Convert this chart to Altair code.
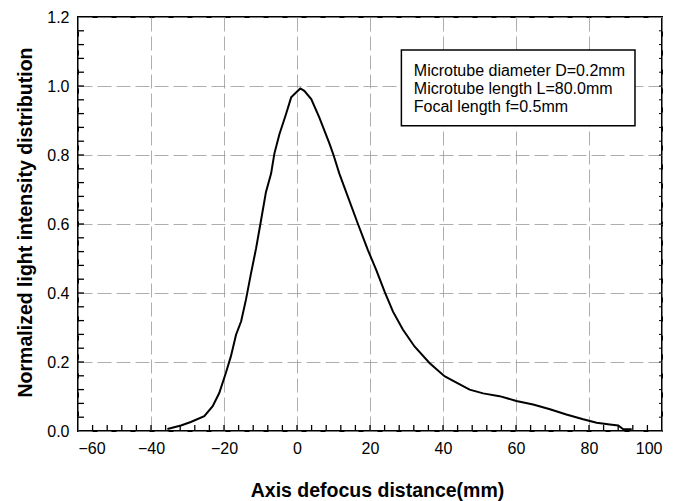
import altair as alt
import pandas as pd

# Curve
x_mm = [-35.5, -31.8, -29.1, -25.4, -23.1, -21.3, -19.5, -18.1, -16.7, -15.3, -14.0,
        -12.6, -11.2, -9.85, -8.5, -7.1, -6.2, -4.8, -3.0, -1.6, -0.25, 0.9, 2.0,
        3.9, 6.1, 8.9, 10.0, 11.6, 16.7, 19.4, 21.7, 24.0, 26.3, 29.0, 32.2, 36.3,
        40.4, 43.7, 47.3, 51.0, 55.5, 60.1, 64.7, 69.3, 73.8, 78.4, 82.1, 85.7,
        88.0, 89.4, 91.7]
intensity = [0.006, 0.016, 0.026, 0.043, 0.072, 0.11, 0.168, 0.217, 0.279, 0.318, 0.38,
             0.457, 0.53, 0.611, 0.693, 0.746, 0.804, 0.861, 0.919, 0.967, 0.981, 0.993, 0.986,
             0.962, 0.909, 0.833, 0.8, 0.746, 0.6, 0.525, 0.467, 0.404, 0.346, 0.294, 0.245, 0.197,
             0.159, 0.14, 0.12, 0.109, 0.101, 0.087, 0.077, 0.063, 0.048, 0.034, 0.024, 0.019,
             0.016, 0.005, 0.005]

x_major = [-60, -40, -20, 0, 20, 40, 60, 80, 100]
y_major = [0.0, 0.2, 0.4, 0.6, 0.8, 1.0, 1.2]
x_minor = list(range(-56, 100, 4))
y_minor = [round(0.04 * i, 2) for i in range(1, 30)]

legend_lines = ["Microtube diameter D=0.2mm", "Microtube length L=80.0mm", "Focal length f=0.5mm"]
legend_text_x = 32.0
legend_text_y = [1.044, 0.992, 0.940]
legend_box = {"x": 28.6, "x2": 92.6, "y": 1.104, "y2": 0.885}

W, H = 584, 414
FONT = "Liberation Sans"

xs = alt.Scale(domain=[-60, 100], nice=False, zero=False)
ys = alt.Scale(domain=[0, 1.2], nice=False)

x_axis = alt.Axis(values=x_major, title="Axis defocus distance(mm)", grid=True,
                  ticks=False, domain=False, labelPadding=9,
                  titleX=299, titleY=59, titleBaseline="middle")
y_axis = alt.Axis(values=y_major, format=".1f",
                  title="Normalized light intensity distribution", grid=True,
                  ticks=False, domain=False, labelPadding=9,
                  titleX=-53, titleY=205, titleAngle=-90,
                  titleBaseline="middle", titleAlign="center")


def X(f):
    return alt.X(f, scale=xs, axis=x_axis, title="Axis defocus distance(mm)")


def Y(f):
    return alt.Y(f, scale=ys, axis=y_axis, title="Normalized light intensity distribution")


curve_df = pd.DataFrame({"x": x_mm, "y": intensity})

line = alt.Chart(curve_df).mark_line(color="black", strokeWidth=2).encode(
    x=X("x:Q"), y=Y("y:Q"), order=alt.Order("x:Q"))

xt_df = pd.DataFrame({"x": x_minor})
yt_df = pd.DataFrame({"y": y_minor})

bottom_ticks = alt.Chart(xt_df).mark_rule(color="black", strokeWidth=1.3).encode(
    x=X("x:Q"), y=alt.value(H), y2=alt.value(H - 6))
left_ticks = alt.Chart(yt_df).mark_rule(color="black", strokeWidth=1.3).encode(
    y=Y("y:Q"), x=alt.value(0), x2=alt.value(6))
right_ticks = alt.Chart(yt_df).mark_rule(color="black", strokeWidth=1).encode(
    y=Y("y:Q"), x=alt.value(W), x2=alt.value(W - 3))

box_df = pd.DataFrame([legend_box])
box = alt.Chart(box_df).mark_rect(fill="white", stroke="black", strokeWidth=1.5).encode(
    x=X("x:Q"), x2="x2:Q", y=Y("y:Q"), y2="y2:Q")

txt_df = pd.DataFrame({"t": legend_lines, "x": [legend_text_x] * 3, "y": legend_text_y})
txt = alt.Chart(txt_df).mark_text(align="left", baseline="middle", font=FONT, fontSize=16,
                                  color="black").encode(
    x=X("x:Q"), y=Y("y:Q"), text="t:N")

chart = alt.layer(box, txt, bottom_ticks, left_ticks, right_ticks, line).properties(
    width=W, height=H,
    autosize=alt.AutoSizeParams(type="none"),
    padding={"left": 78, "top": 17, "right": 15, "bottom": 70},
    background="white",
).configure_view(stroke="black", strokeWidth=2).configure_axis(
    gridColor="#999", gridDash=[14, 5], gridWidth=0.8,
    labelFont=FONT, labelFontSize=16, labelColor="black",
    titleFont=FONT, titleFontSize=19.5, titleFontWeight="bold", titleColor="black",
)

chart.save("out.html", embed_options={"renderer": "svg", "actions": False})
